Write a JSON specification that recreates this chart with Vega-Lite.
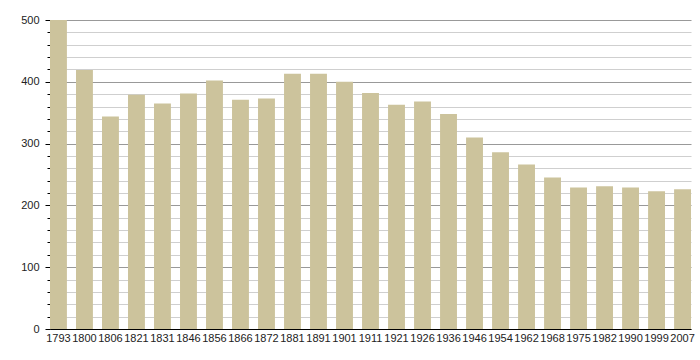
{
  "$schema": "https://vega.github.io/schema/vega-lite/v6.json",
  "autosize": {"type": "none"},
  "width": 641,
  "height": 309,
  "padding": {"left": 50, "top": 20, "right": 9, "bottom": 31},
  "background": "white",
  "data": {"values": [
    {"year": "1793", "pop": 500},
    {"year": "1800", "pop": 419},
    {"year": "1806", "pop": 344},
    {"year": "1821", "pop": 379},
    {"year": "1831", "pop": 365},
    {"year": "1846", "pop": 381},
    {"year": "1856", "pop": 402},
    {"year": "1866", "pop": 371},
    {"year": "1872", "pop": 373},
    {"year": "1881", "pop": 413},
    {"year": "1891", "pop": 413},
    {"year": "1901", "pop": 400},
    {"year": "1911", "pop": 382},
    {"year": "1921", "pop": 363},
    {"year": "1926", "pop": 368},
    {"year": "1936", "pop": 348},
    {"year": "1946", "pop": 310},
    {"year": "1954", "pop": 286},
    {"year": "1962", "pop": 266},
    {"year": "1968", "pop": 245},
    {"year": "1975", "pop": 229},
    {"year": "1982", "pop": 231},
    {"year": "1990", "pop": 229},
    {"year": "1999", "pop": 223},
    {"year": "2007", "pop": 226}
  ]},
  "mark": {"type": "bar", "color": "#CCC39C"},
  "encoding": {
    "x": {
      "field": "year", "type": "ordinal", "sort": null,
      "scale": {"paddingInner": 0.35, "paddingOuter": 0},
      "axis": {
        "title": null, "labelAngle": 0, "ticks": false,
        "domainColor": "#000", "domainWidth": 1,
        "labelFont": "Liberation Sans", "labelFontSize": 11, "labelColor": "#222",
        "labelPadding": 3
      }
    },
    "y": {
      "field": "pop", "type": "quantitative",
      "scale": {"domain": [0, 500], "nice": false},
      "axis": {
        "title": null,
        "values": [0,20,40,60,80,100,120,140,160,180,200,220,240,260,280,300,320,340,360,380,400,420,440,460,480,500],
        "labelExpr": "datum.value % 100 === 0 ? datum.value : ''",
        "grid": true,
        "gridColor": {"condition": {"test": "datum.value % 100 === 0", "value": "#999999"}, "value": "#CFCFCF"},
        "gridWidth": 1,
        "tickColor": "#000",
        "tickSize": {"condition": {"test": "datum.value % 100 === 0", "value": 5}, "value": 3},
        "domainColor": "#000", "domainWidth": 1,
        "labelFont": "Liberation Sans", "labelFontSize": 11, "labelColor": "#222",
        "labelPadding": 6
      }
    }
  },
  "config": {"view": {"stroke": null}}
}
